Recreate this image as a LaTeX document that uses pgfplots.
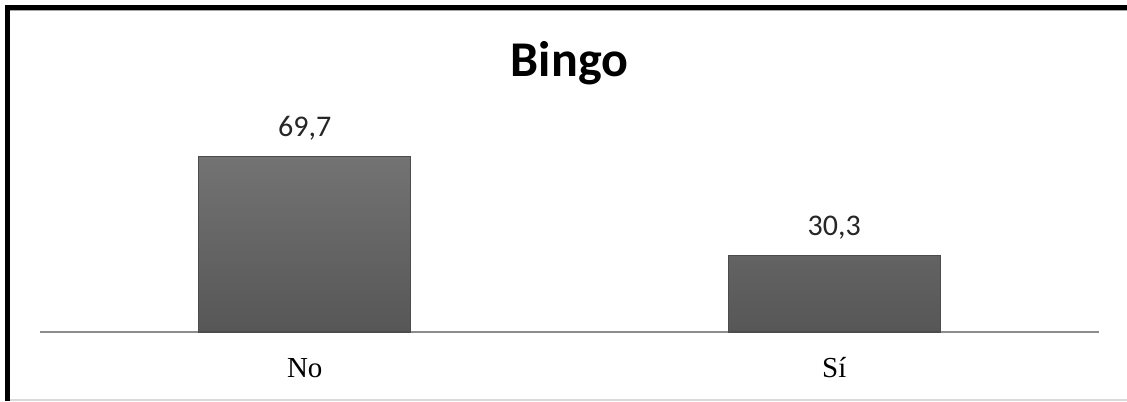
\documentclass[border=0pt]{standalone}
\usepackage{pgfplots}
\pgfplotsset{compat=1.18}
\usepackage{fontspec}
\setmainfont{Liberation Serif}
\newfontfamily\calibri{Carlito}
\begin{document}
\begin{tikzpicture}[x=0.5pt,y=0.5pt]
\useasboundingbox (0,0) rectangle (1127,401);
\fill[white] (0,0) rectangle (1127,401);
% frame
\fill[black] (5,0) rectangle (10,396);
\fill[black] (5,391) rectangle (1127,396);
\draw[black!35, line width=0.5pt] (10,390.2) -- (1127,390.2);
\draw[black!15, line width=0.8pt] (10,1) -- (1127,1);
\begin{axis}[
  at={(20pt,34.5pt)}, anchor=south west,
  scale only axis, width=529.5pt, height=116pt,
  xmin=-0.5, xmax=1.5, ymin=0, ymax=92,
  axis y line=none, axis x line=bottom,
  axis line style={-, black!45, line width=0.6pt},
  xtick=data, xticklabels={No,Sí},
  major tick length=0pt,
  xticklabel style={anchor=base, yshift=-23pt, font=\fontsize{14.5}{16}\selectfont},
  ybar, bar width=106pt,
  nodes near coords,
  /pgf/number format/.cd, use comma, fixed, precision=1, fixed zerofill, assume math mode=true,
  /pgfplots/.cd,
  nodes near coords style={anchor=base, yshift=10pt, font=\calibri\fontsize{15}{18}\selectfont, text=black!85},
  clip=false,
]
\addplot[draw=black!70, line width=0.6pt, top color=black!55, bottom color=black!66] coordinates {(0,69.7) (1,30.3)};
\end{axis}
\node[anchor=base, font=\calibri\bfseries\fontsize{25}{29}\selectfont] at (569.5,324) {Bingo};
\end{tikzpicture}
\end{document}
